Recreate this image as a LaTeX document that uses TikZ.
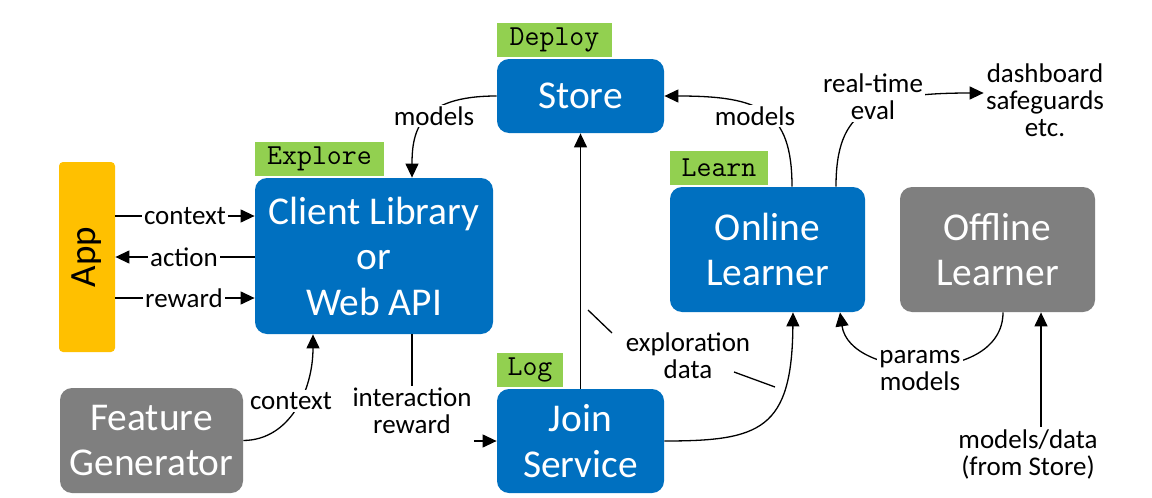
\documentclass[tikz,border=0pt]{standalone}
\usepackage{fontspec}
\setmainfont{Carlito}
\usetikzlibrary{arrows.meta,calc}
\definecolor{boxblue}{HTML}{0070C0}
\definecolor{boxgrey}{HTML}{7F7F7F}
\definecolor{apporange}{HTML}{FFC000}
\definecolor{taggreen}{HTML}{92D050}
\begin{document}
\begin{tikzpicture}[x=0.5pt,y=-0.5pt,
  bbox/.style={rounded corners=6pt, fill=boxblue, text=white, align=center,
    font=\fontsize{19.7}{22.75}\selectfont, inner sep=0pt},
  gbox/.style={bbox, fill=boxgrey},
  appbox/.style={rounded corners=2pt, fill=apporange, inner sep=0pt},
  tagbox/.style={fill=taggreen, font=\ttfamily\fontsize{14.5}{14.5}\selectfont,
    minimum height=17pt, inner sep=0pt, anchor=south west},
  lbl/.style={font=\fontsize{13.5}{13.5}\selectfont, align=center, inner sep=1pt, fill=white},
  conn/.style={line width=0.65pt},
  arr/.style={conn, -{Triangle[length=7pt,width=6.5pt]}}]
\fill[white] (0,0) rectangle (1152,498);
\useasboundingbox (0,0) rectangle (1152,498);

% boxes
\node[appbox, minimum width=28pt, minimum height=95pt] (app) at (87,257) {};
\node[rotate=90, font=\fontsize{18.5}{18.5}\selectfont, inner sep=0pt] (apptext) at (app.center) {App};
\node[bbox, minimum width=119pt, minimum height=78pt] (client) at (374,256) {Client Library\\or\\Web API};
\node[gbox, minimum width=91.5pt, minimum height=52.5pt] (fg) at (151.5,440.5) {Feature\\Generator};
\node[bbox, minimum width=83.5pt, minimum height=37pt] (store) at (580.5,96) {Store};
\node[bbox, minimum width=83.5pt, minimum height=52pt] (join) at (580.5,441) {Join\\Service};
\node[bbox, minimum width=97.5pt, minimum height=62.5pt] (online) at (767.5,249.5) {Online\\Learner};
\node[gbox, minimum width=97.5pt, minimum height=62.5pt] (offline) at (997.5,249.5) {Offline\\Learner};

% tags
\node[tagbox, minimum width=57.5pt] (tdeploy) at ([yshift=0.5pt]store.north west) {Deploy};
\node[tagbox, minimum width=64.5pt] (texplore) at ([yshift=0.5pt]client.north west) {Explore};
\node[tagbox, minimum width=49pt] (tlearn) at ([yshift=0.5pt]online.north west) {Learn};
\node[tagbox, minimum width=33pt] (tlog) at ([yshift=0.5pt]join.north west) {Log};

% side nodes
\node[lbl] (dash) at (1045,100) {dashboard\\safeguards\\etc.};
\node[lbl] (md) at (1028,454) {models/data\\(from Store)};
\node[lbl] (lir) at (412,411) {interaction\\reward};

% connectors
\draw[arr] ([yshift=20.5pt]app.east) -- ([yshift=20pt]client.west);
\draw[arr] ([yshift=-0.5pt]client.west) -- (app.east);
\draw[arr] ([yshift=-20.5pt]app.east) -- ([yshift=-21pt]client.west);
\draw[arr] (fg.east) .. controls (290,440) and (313,390) .. ([xshift=-30.5pt]client.south);
\draw[conn] ([xshift=19pt]client.south) -- (lir.north);
\draw[arr] (lir.east |- join.west) -- (join.west);
\draw[arr] (store.west) .. controls (420,96) and (412,130) .. ([xshift=19pt]client.north);
\draw[arr] ([xshift=12.25pt]online.north) .. controls (792,110) and (760,96) .. (store.east);
\draw[arr] ([xshift=34.25pt]online.north) .. controls (836,110) and (870,93) .. ([yshift=3.5pt]dash.west);
\draw[arr] (join.north) -- (store.south);
\draw[arr] (join.east) .. controls (760,441) and (792,430) .. ([xshift=12.75pt]online.south);
\draw[arr] ([xshift=2.75pt]offline.south) .. controls (1003,385) and (850,380) .. ([xshift=36.25pt]online.south);
\draw[arr] ([xshift=6.5pt]md.north) -- ([xshift=21.75pt]offline.south);

% labels on connectors
\node[lbl] (lctx) at (185,216) {context};
\node[lbl] (lact) at (184,257) {action};
\node[lbl] (lrew) at (184,298) {reward};
\node[lbl] (lctx2) at (291,401) {context};
\node[lbl] (lmod1) at (434,116) {models};
\node[lbl] (lmod2) at (755,116) {models};
\node[lbl] (lrt) at (873,97) {real-time\\eval};
\node[lbl] (lpm) at (920,371) {params\\models};
\node[lbl] (expl) at (688,356) {exploration\\data};
\draw[conn] ([shift={(-76,-23)}]expl.center) -- ([shift={(-100,-46)}]expl.center);
\draw[conn] ([shift={(46,16)}]expl.center) -- ([shift={(87,31)}]expl.center);
\end{tikzpicture}
\end{document}
